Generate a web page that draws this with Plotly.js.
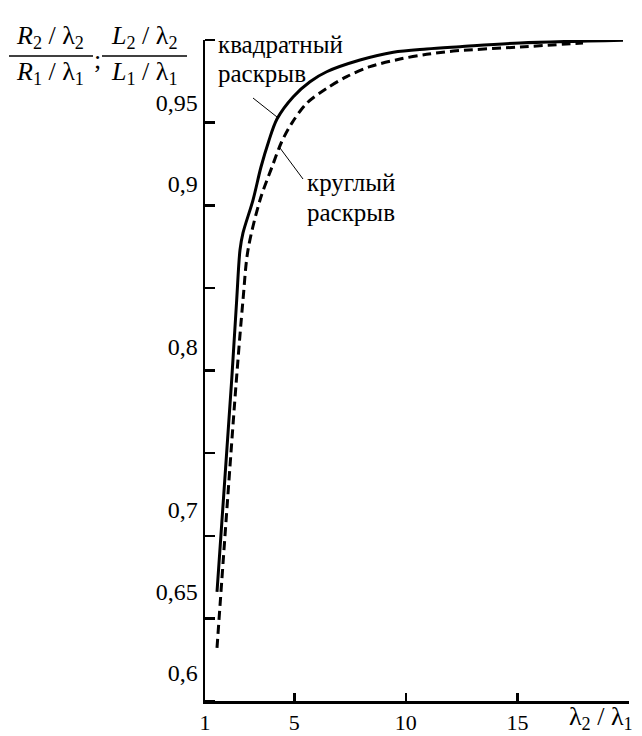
<!DOCTYPE html>
<html>
<head>
<meta charset="utf-8">
<script src="https://cdn.plot.ly/plotly-3.0.1.min.js"></script>
<style>html,body{margin:0;padding:0;background:#fff;}</style>
</head>
<body>
<div id="chart" style="width:642px;height:736px;"></div>
<script>
// ---- data ----
const xSquare = [1.538, 2.196, 2.420, 2.568, 2.703, 3.151, 3.509, 3.845, 4.226, 4.957, 5.705, 6.453, 7.946, 9.438, 10.935, 12.427, 15.115, 19.731];
const ySquare = [0.6495, 0.7797, 0.8288, 0.8595, 0.8700, 0.8902, 0.9105, 0.9259, 0.9400, 0.9537, 0.9629, 0.9690, 0.9762, 0.9810, 0.9830, 0.9844, 0.9867, 0.9884];
const xRound = [1.538, 2.389, 2.703, 2.927, 3.465, 4.002, 4.437, 4.885, 5.557, 6.453, 7.350, 8.394, 9.738, 10.935, 12.126, 15.115, 17.939];
const yRound = [0.6151, 0.7766, 0.8288, 0.8595, 0.8902, 0.9105, 0.9260, 0.9373, 0.9496, 0.9588, 0.9660, 0.9721, 0.9768, 0.9797, 0.9817, 0.9842, 0.9867];
const yTickVals = [0.6, 0.65, 0.7, 0.8, 0.9, 0.95];
const yTickText = ['0,6', '0,65', '0,7', '0,8', '0,9', '0,95'];
const xTickVals = [1, 5, 10, 15, 20];
const xTickText = ['1', '5', '10', '15', ''];
const seriesNames = ['квадратный раскрыв', 'круглый раскрыв'];

// ---- layout helpers ----
const W = 642, H = 736;
const M = {l: 205, r: 13, t: 40, b: 35};
const PW = W - M.l - M.r, PH = H - M.t - M.b;
const px = x => (x - M.l) / PW;
const py = y => (H - M.b - y) / PH;
const FONT = '"Liberation Serif", "Times New Roman", serif';
const yMin = 0.5825, yMax = 0.9885;

function txt(x, y, text, size, anchor) {
  return {xref: 'paper', yref: 'paper', x: px(x), y: py(y), text: text,
    showarrow: false, xanchor: anchor || 'center', yanchor: 'middle',
    font: {family: FONT, size: size || 24, color: '#000'}};
}
function seg(x0, y0, x1, y1, w) {
  return {type: 'line', xref: 'paper', yref: 'paper', x0: px(x0), y0: py(y0), x1: px(x1), y1: py(y1),
    line: {color: '#000', width: w || 1}};
}

const traces = [
  {x: xSquare, y: ySquare, name: seriesNames[0], mode: 'lines',
   line: {color: '#000', width: 3, shape: 'spline', smoothing: 0.9}},
  {x: xRound, y: yRound, name: seriesNames[1], mode: 'lines',
   line: {color: '#000', width: 3, dash: '9px,5px', shape: 'spline', smoothing: 0.9}}
];

const layout = {
  width: W, height: H, margin: M, showlegend: false,
  paper_bgcolor: '#fff', plot_bgcolor: '#fff',
  font: {family: FONT, color: '#000', size: 24},
  xaxis: {range: [1, 20], showgrid: false, zeroline: false, showline: true,
    linecolor: '#000', linewidth: 2.5, tickvals: xTickVals, ticktext: xTickText,
    ticks: 'inside', ticklen: 8, tickwidth: 2.5, tickcolor: '#000',
    tickfont: {family: FONT, size: 22, color: '#000'}},
  yaxis: {range: [yMin, yMax], showgrid: false, zeroline: false, showline: true,
    linecolor: '#000', linewidth: 2.5, tickvals: yTickVals, ticktext: yTickText,
    ticks: '', tickfont: {family: FONT, size: 24, color: '#000'},
    minor: {tick0: yMin, dtick: (yMax - yMin) / 8, ticks: 'inside', ticklen: 10,
      tickwidth: 2.5, tickcolor: '#000', showgrid: false}},
  annotations: [
    txt(50, 37, '<i>R</i><sub>2</sub> / λ<sub>2</sub>', 26),
    txt(50, 73, '<i>R</i><sub>1</sub> / λ<sub>1</sub>', 26),
    txt(97, 60, ';', 26),
    txt(144, 37, '<i>L</i><sub>2</sub> / λ<sub>2</sub>', 26),
    txt(144, 73, '<i>L</i><sub>1</sub> / λ<sub>1</sub>', 26),
    txt(216, 45, 'квадратный', 25, 'left'),
    txt(216, 73, 'раскрыв', 25, 'left'),
    txt(305, 182, 'круглый', 25, 'left'),
    txt(305, 212, 'раскрыв', 25, 'left'),
    txt(601, 718, 'λ<sub>2</sub> / λ<sub>1</sub>', 26)
  ],
  shapes: [
    seg(9, 56, 93, 56, 1.5),
    seg(102, 56, 187, 56, 1.5),
    seg(253, 98, 277, 117, 1),
    seg(280, 148, 303, 179, 1)
  ]
};

Plotly.newPlot('chart', traces, layout, {staticPlot: true});
</script>
</body>
</html>
